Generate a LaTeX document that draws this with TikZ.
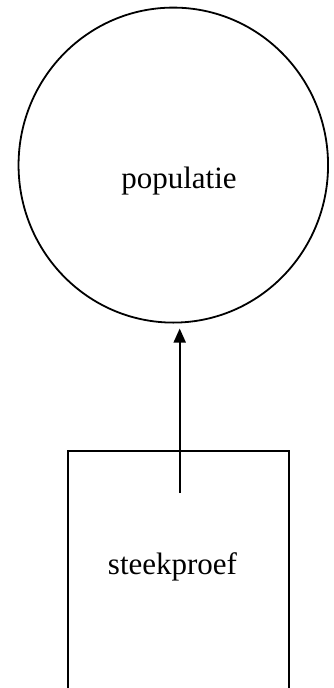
\documentclass[tikz,border=0pt]{standalone}
\usepackage{fontspec}
\setmainfont{Liberation Serif}
\usetikzlibrary{arrows.meta,shapes.geometric}
\begin{document}
\begin{tikzpicture}[x=1pt,y=1pt,
  shapeline/.style={draw=black,line width=1.8pt},
  lbl/.style={font=\fontsize{31}{36}\selectfont,inner sep=0pt}]
\useasboundingbox (0,0) rectangle (334,-688);
\node[shapeline,ellipse,minimum width=309.5pt,minimum height=315pt,inner sep=0pt] (pop) at (173.3,-165.1) {};
\node[lbl] (poptext) at (179,-181) {populatie};
\node[shapeline,rectangle,minimum width=221pt,minimum height=300pt,inner sep=0pt,anchor=north] (box) at (178.2,-450) {};
\node[lbl] (sptext) at (172.5,-567) {steekproef};
\coordinate (start) at (179.7,-493);
\coordinate (tip) at (179.7,-328.5);
\draw[line width=1.8pt,-{Triangle[length=14pt,width=12pt]}] (start) -- (tip);
\end{tikzpicture}
\end{document}
